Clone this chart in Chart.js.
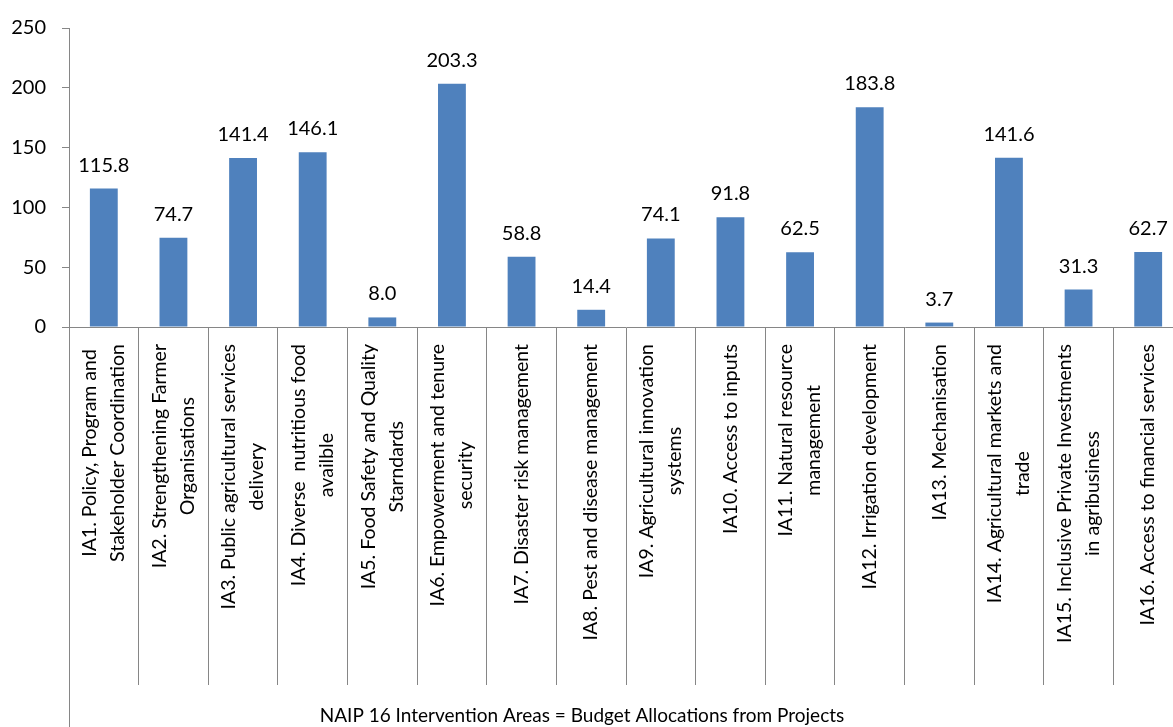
<!DOCTYPE html>
<html>
<head>
<meta charset="utf-8">
<title>NAIP budget allocations</title>
<script src="https://cdn.jsdelivr.net/npm/chart.js@4.4.1/dist/chart.umd.min.js"></script>
<style>
  html,body{margin:0;padding:0;background:#fff;overflow:hidden}
  .wrap{position:relative;width:1184px;height:727px}
</style>
</head>
<body>
<div class="wrap"><canvas id="budgetChart"></canvas></div>
<script>
// --- data ---
const areas = [
  ['IA1. Policy, Program and', 'Stakeholder Coordination'],
  ['IA2. Strengthening Farmer', 'Organisations'],
  ['IA3. Public agricultural services', 'delivery'],
  ['IA4. Diverse  nutritious food', 'availble'],
  ['IA5. Food Safety and Quality', 'Starndards'],
  ['IA6. Empowerment and tenure', 'security'],
  ['IA7. Disaster risk management'],
  ['IA8. Pest and disease management'],
  ['IA9. Agricultural innovation', 'systems'],
  ['IA10. Access to inputs'],
  ['IA11. Natural resource', 'management'],
  ['IA12. Irrigation development'],
  ['IA13. Mechanisation'],
  ['IA14. Agricultural markets and', 'trade'],
  ['IA15. Inclusive Private Investments', 'in agribusiness'],
  ['IA16. Access to financial services']
]
const allocations = [115.8, 74.7, 141.4, 146.1, 8.0, 203.3, 58.8, 14.4, 74.1, 91.8, 62.5, 183.8, 3.7, 141.6, 31.3, 62.7]
const yMin = 0
const yMax = 250
const yStep = 50
const axisTitle = 'NAIP 16 Intervention Areas = Budget Allocations from Projects'

const FONT = 'Lato, "Open Sans", sans-serif'
const AXIS = '#868686'
const BAR = '#4F81BD'

// value printed above each bar
const valueLabels = {
  id:'valueLabels',
  afterDatasetsDraw(chart){
    const ctx = chart.ctx
    const meta = chart.getDatasetMeta(0)
    ctx.save()
    ctx.font = `20px ${FONT}`
    ctx.fillStyle = '#000'
    ctx.textAlign = 'center'
    ctx.textBaseline = 'alphabetic'
    meta.data.forEach((bar,i)=>{
      ctx.fillText(allocations[i].toFixed(1), bar.x, bar.y - 17)
    })
    ctx.restore()
  }
}

// rotated category names (lines centred on each other), axis title,
// and the value axis line carried down through the label band
const categoryLabels = {
  id:'categoryLabels',
  afterDraw(chart){
    const {ctx, chartArea, scales:{x}} = chart
    ctx.save()
    ctx.strokeStyle = AXIS
    ctx.lineWidth = 1
    const ax = Math.round(chartArea.left) + 0.5
    ctx.beginPath()
    ctx.moveTo(ax, chartArea.bottom)
    ctx.lineTo(ax, chart.height)
    ctx.stroke()

    ctx.font = `19.5px ${FONT}`
    ctx.fillStyle = '#000'
    ctx.textAlign = 'center'
    ctx.textBaseline = 'middle'
    areas.forEach((lines,i)=>{
      const cx = x.getPixelForTick(i)
      const w = Math.max(...lines.map(l=>ctx.measureText(l).width))
      const cy = chartArea.bottom + 17 + w/2
      lines.forEach((l,j)=>{
        ctx.save()
        ctx.translate(cx + (j - (lines.length-1)/2)*28, cy)
        ctx.rotate(-Math.PI/2)
        ctx.fillText(l, 0, 0)
        ctx.restore()
      })
    })

    ctx.font = `19px ${FONT}`
    ctx.textBaseline = 'alphabetic'
    ctx.fillText(axisTitle, 582, 722)
    ctx.restore()
  }
}

try {
  const el = document.getElementById('budgetChart')
  new Chart(el, {
    type:'bar',
    data:{
      labels: areas.map(a=>a.join(' ')),
      datasets:[{
        data: allocations,
        backgroundColor: BAR,
        borderWidth: 0,
        categoryPercentage: 1,
        barPercentage: 0.4
      }]
    },
    options:{
      responsive:true,
      maintainAspectRatio:false,
      animation:false,
      layout:{padding:{top:27, right:1, left:0, bottom:0}},
      plugins:{legend:{display:false}, tooltip:{enabled:false}},
      scales:{
        x:{
          offset:true,
          ticks:{display:false},
          grid:{offset:true, drawOnChartArea:false, drawTicks:true, tickLength:358, color:AXIS, lineWidth:1},
          border:{color:AXIS, width:1},
          afterFit(s){ s.height = 400 }
        },
        y:{
          min:yMin, max:yMax,
          ticks:{stepSize:yStep, color:'#000', font:{family:FONT, size:20}, padding:16},
          grid:{drawOnChartArea:false, drawTicks:true, tickLength:7, color:AXIS, lineWidth:1},
          border:{color:AXIS, width:1},
          afterFit(s){ s.width = 69 }
        }
      }
    },
    plugins:[valueLabels, categoryLabels]
  })
} catch(e) {
  console.error('Error drawing chart:', e)
}
</script>
</body>
</html>
